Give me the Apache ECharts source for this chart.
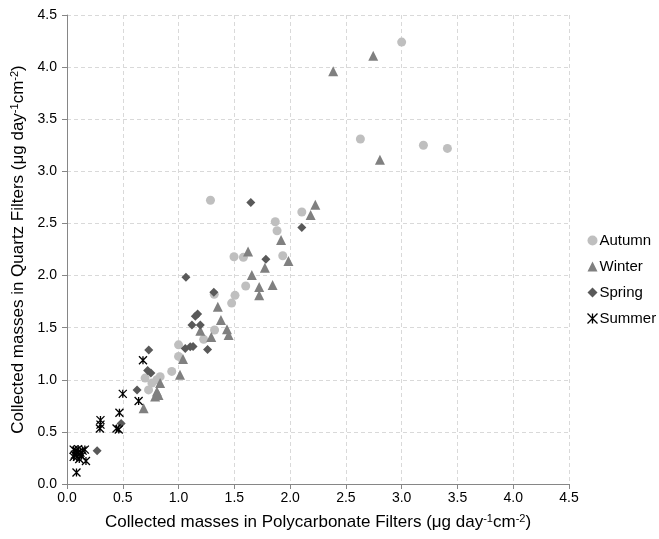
<!DOCTYPE html>
<html><head><meta charset="utf-8">
<script src="https://cdn.jsdelivr.net/npm/echarts@6/dist/echarts.min.js"></script>
<style>html,body{margin:0;padding:0;background:#fff}#c{width:659px;height:539px}</style>
</head><body><div id="c"></div>
<script>
var autumn = [[3.0,4.24],[2.63,3.31],[3.195,3.25],[3.41,3.22],[1.286,2.723],[2.105,2.61],[1.867,2.516],[1.883,2.43],[1.497,2.18],[1.581,2.175],[1.934,2.19],[1.602,1.90],[1.506,1.81],[1.32,1.82],[1.476,1.736],[1.323,1.478],[1.225,1.388],[1.0,1.335],[1.0,1.224],[0.939,1.08],[0.835,1.03],[0.70,1.016],[0.806,1.0],[0.761,0.968],[0.731,0.903]];
var winter = [[2.745,4.11],[2.386,3.96],[2.805,3.11],[2.226,2.68],[2.184,2.58],[1.919,2.34],[1.623,2.23],[1.985,2.14],[1.774,2.076],[1.657,2.006],[1.723,1.89],[1.843,1.91],[1.723,1.81],[1.352,1.70],[1.38,1.574],[1.195,1.47],[1.434,1.484],[1.449,1.43],[1.293,1.41],[1.04,1.20],[1.013,1.048],[0.835,0.968],[0.806,0.887],[0.82,0.855],[0.79,0.84],[0.687,0.726]];
var spring = [[1.648,2.70],[2.105,2.46],[1.783,2.156],[1.066,1.984],[1.316,1.84],[1.171,1.631],[1.15,1.61],[1.12,1.526],[1.195,1.526],[1.26,1.29],[1.06,1.30],[1.105,1.317],[1.13,1.32],[0.733,1.285],[0.723,1.09],[0.752,1.065],[0.628,0.903],[0.485,0.58],[0.27,0.32]];
var summer = [[0.681,1.187],[0.5,0.865],[0.642,0.797],[0.47,0.684],[0.30,0.613],[0.295,0.532],[0.30,0.57],[0.444,0.532],[0.464,0.523],[0.06,0.33],[0.08,0.32],[0.10,0.335],[0.12,0.30],[0.07,0.28],[0.09,0.26],[0.11,0.24],[0.14,0.32],[0.16,0.33],[0.17,0.22],[0.13,0.27],[0.06,0.26],[0.10,0.30],[0.085,0.11]];
var seriesNames = ['Autumn','Winter','Spring','Summer'];

var starPath = 'path://M0,0 L10,10 M10,0 L0,10 M5,0 L5,10';
var chart = echarts.init(document.getElementById('c'), null, {renderer:'canvas'});
var font = 'Liberation Sans, Arial, sans-serif';
var nameRich = {
  a:{fontSize:17, fontFamily:font, color:'#000'},
  s:{fontSize:11, fontFamily:font, color:'#000', verticalAlign:'top', padding:[0,0,7,0]}
};
function axisCommon(nm, gap){
  return {
    type:'value', min:0, max:4.5, interval:0.5,
    name:nm, nameLocation:'middle', nameGap:gap,
    nameTextStyle:{rich:nameRich},
    axisLine:{show:true, lineStyle:{color:'#868686', width:1}},
    axisTick:{show:true, inside:false, length:5, lineStyle:{color:'#868686'}},
    axisLabel:{fontSize:14, fontFamily:font, color:'#000', formatter:function(v){return v.toFixed(1);}},
    splitLine:{show:true, lineStyle:{color:'#D9D9D9', type:[4,3], width:1}}
  };
}
var xa = axisCommon('{a|Collected masses in Polycarbonate Filters (μg day}{s|-1}{a|cm}{s|-2}{a|)}', 29);
xa.axisLabel.margin = 7;
var ya = axisCommon('{a|Collected masses in Quartz Filters (μg day}{s|-1}{a|cm}{s|-2}{a|)}', 40);
ya.axisLabel.margin = 10;

chart.setOption({
  animation:false,
  backgroundColor:'#fff',
  grid:{left:67, top:15, right:90, bottom:55, containLabel:false},
  xAxis:xa,
  yAxis:ya,
  legend:{
    orient:'vertical', left:580, top:228, itemGap:11, itemWidth:10, itemHeight:10,
    textStyle:{fontSize:15, fontFamily:font, color:'#000', padding:[0,0,0,-3]},
    data:[
      {name:'Autumn', icon:'circle'},
      {name:'Winter', icon:'triangle'},
      {name:'Spring', icon:'diamond'},
      {name:'Summer', icon:starPath, itemStyle:{color:'none', borderColor:'#000', borderWidth:1.3}}
    ]
  },
  series:[
    {name:seriesNames[0], type:'scatter', data:autumn, symbol:'circle', symbolSize:9, itemStyle:{color:'#BFBFBF', opacity:1}},
    {name:seriesNames[1], type:'scatter', data:winter, symbol:'triangle', symbolSize:10, itemStyle:{color:'#808080', opacity:1}},
    {name:seriesNames[2], type:'scatter', data:spring, symbol:'diamond', symbolSize:9, itemStyle:{color:'#595959', opacity:1}},
    {name:seriesNames[3], type:'scatter', data:summer, symbol:starPath, symbolSize:8, itemStyle:{color:'none', borderColor:'#000', borderWidth:1.3, opacity:1}}
  ]
});
</script></body></html>
